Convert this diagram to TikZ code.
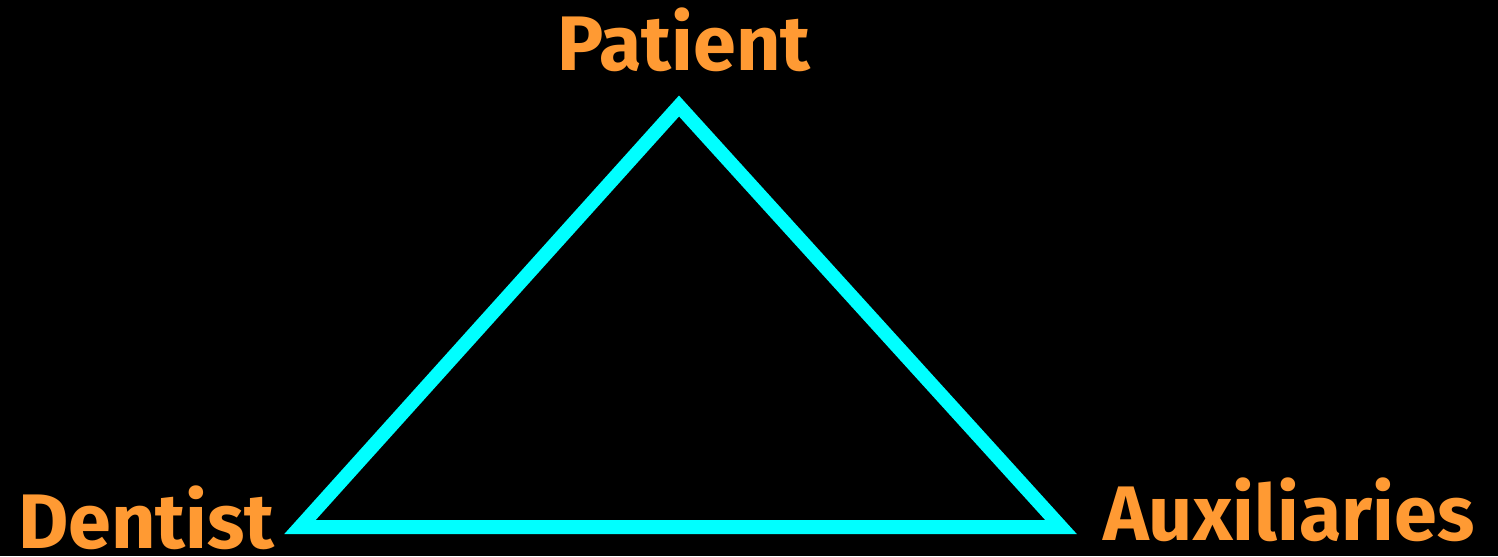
\documentclass[tikz,border=0pt]{standalone}
\usepackage{fontspec}
\setmainfont{Fira Sans}
\usetikzlibrary{positioning}

\begin{document}
\begin{tikzpicture}[
  x=0.02cm, y=-0.02cm,
  role/.style={text=roleorange, font=\fontsize{44}{48}\selectfont\bfseries, inner sep=0pt},
  edge/.style={draw=edgecyan, line width=0.28cm, line join=miter}
]
\definecolor{roleorange}{HTML}{FF9A33}
\definecolor{edgecyan}{HTML}{00FFFF}
\fill[black] (0,0) rectangle (1498,556);
\useasboundingbox (0,0) rectangle (1498,556);

\coordinate (top) at (679,106);
\coordinate (left) at (300,527);
\coordinate (right) at (1061,527);

\node[role, anchor=base] (patient) at (684,70) {Patient};
\node[role, anchor=base west] (dentist) at (18,548) {Dentist};
\node[role, anchor=base west] (aux) at (1103,540) {Auxiliaries};

\draw[edge] (top) -- (right) -- (left) -- cycle;
\end{tikzpicture}
\end{document}
